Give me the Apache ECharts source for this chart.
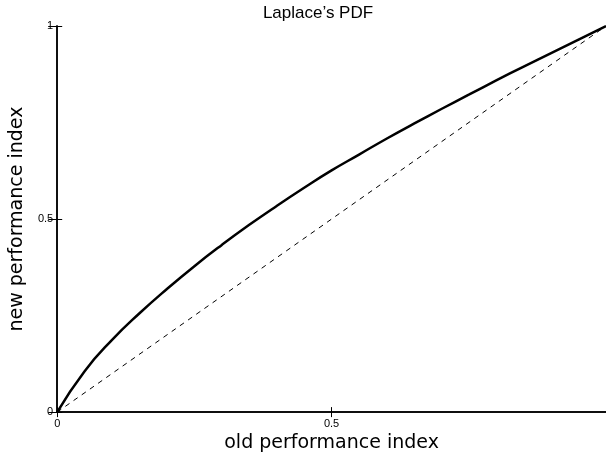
<!DOCTYPE html>
<html>
<head>
<meta charset="utf-8">
<script src="https://cdn.jsdelivr.net/npm/echarts@6/dist/echarts.min.js"></script>
<style>
html,body{margin:0;padding:0;background:#fff;}
#chart{width:606px;height:458px;}
</style>
</head>
<body>
<div id="chart"></div>
<script>
const titleText = "Laplace’s PDF";
const xName = "old performance index";
const yName = "new performance index";
const oldIndex = [0,0.05,0.1,0.15,0.2,0.25,0.3,0.35,0.4,0.45,0.5,0.55,0.6,0.65,0.7,0.75,0.8,0.85,0.9,0.95,1.0];
const newIndex = [0,0.106,0.187,0.256,0.319,0.378,0.433,0.485,0.534,0.581,0.626,0.667,0.708,0.747,0.785,0.822,0.859,0.895,0.930,0.965,1.0];
const diagX = [0,1];
const diagY = [0,1];

const chart = echarts.init(document.getElementById('chart'), null, {renderer:'canvas'});
const lineStyleAxis = {color:'#000', width:1.5};
const tickLabel = {color:'#000', fontSize:11, fontFamily:'Liberation Sans, Arial, sans-serif'};
chart.setOption({
  animation:false,
  backgroundColor:'#fff',
  title:{
    text:titleText, left:313, top:0, textAlign:'center',
    textStyle:{fontSize:17, fontWeight:'normal', color:'#000', fontFamily:'Liberation Sans, Arial, sans-serif'}
  },
  grid:{left:52, top:26, right:-5, bottom:43, containLabel:false},
  xAxis:[{
    type:'value', min:0, max:1, interval:0.5, position:'bottom',
    name:xName, nameLocation:'middle', nameGap:19,
    nameTextStyle:{fontSize:19, color:'#000', fontFamily:'DejaVu Sans, sans-serif'},
    axisLine:{show:true, lineStyle:lineStyleAxis},
    axisTick:{show:true, inside:true, length:5, lineStyle:{color:'#000', width:1}},
    axisLabel:{...tickLabel, margin:6, showMaxLabel:false},
    splitLine:{show:false}
  },{
    type:'value', min:0, max:1, interval:0.5, position:'top',
    axisLine:{show:true, lineStyle:lineStyleAxis},
    axisTick:{show:true, inside:true, length:5, lineStyle:{color:'#000', width:1}},
    axisLabel:{show:false}, splitLine:{show:false}
  }],
  yAxis:[{
    type:'value', min:0, max:1, interval:0.5, position:'left',
    name:yName, nameLocation:'middle', nameGap:17,
    nameTextStyle:{fontSize:19, color:'#000', fontFamily:'DejaVu Sans, sans-serif'},
    axisLine:{show:true, lineStyle:lineStyleAxis},
    axisTick:{show:true, inside:true, length:5, lineStyle:{color:'#000', width:1}},
    axisLabel:{...tickLabel, margin:4},
    splitLine:{show:false}
  },{
    type:'value', min:0, max:1, interval:0.5, position:'right',
    axisLine:{show:true, lineStyle:lineStyleAxis},
    axisTick:{show:true, inside:true, length:9, lineStyle:{color:'#000', width:1}},
    axisLabel:{show:false}, splitLine:{show:false}
  }],
  series:[{
    type:'line', xAxisIndex:0, yAxisIndex:0,
    data: diagX.map((x,i)=>[x, diagY[i]]),
    symbol:'none', lineStyle:{color:'#000', width:1, type:[5,5]}
  },{
    type:'line', xAxisIndex:0, yAxisIndex:0, smooth:true,
    data: oldIndex.map((x,i)=>[x, newIndex[i]]),
    symbol:'none', lineStyle:{color:'#000', width:2.5}
  }]
});
</script>
</body>
</html>
